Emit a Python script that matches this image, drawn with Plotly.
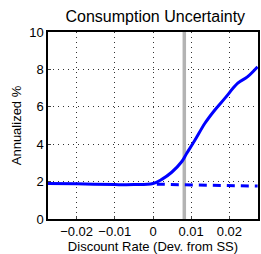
import plotly.graph_objects as go

# data
solid_x = [-0.0275, -0.02, -0.01, -0.005, 0.0, 0.0023, 0.0049, 0.0075, 0.0088, 0.011, 0.0136, 0.0162, 0.0188, 0.0222, 0.0248, 0.0274]
solid_y = [1.90, 1.88, 1.84, 1.84, 1.90, 2.12, 2.50, 3.06, 3.50, 4.22, 5.12, 5.83, 6.45, 7.26, 7.61, 8.14]
dash_x = [0.001, 0.01, 0.02, 0.0274]
dash_y = [1.86, 1.82, 1.78, 1.76]
vline_x = 0.0082
x_ticks = [-0.02, -0.01, 0, 0.01, 0.02]
x_tick_labels = ["\u22120.02", "\u22120.01", "0", "0.01", "0.02"]
y_ticks = [0, 2, 4, 6, 8, 10]

fig = go.Figure()
fig.add_trace(go.Scatter(x=[vline_x, vline_x], y=[0, 10], mode="lines",
                         line=dict(color="#b3b3b3", width=3.5), showlegend=False))
fig.add_trace(go.Scatter(x=solid_x, y=solid_y, mode="lines",
                         line=dict(color="#0000ff", width=3, shape="spline"), showlegend=False))
fig.add_trace(go.Scatter(x=dash_x, y=dash_y, mode="lines",
                         line=dict(color="#0000ff", width=3, dash="8px,6px"), showlegend=False))

font = "Liberation Sans, Arial, sans-serif"
fig.update_layout(
    width=261, height=254,
    margin=dict(l=48, r=1, t=32, b=35),
    paper_bgcolor="white", plot_bgcolor="white",
    font=dict(family=font, size=13, color="black"),
    title=dict(text="Consumption Uncertainty", x=0.595, xanchor="center", y=0.935, yanchor="middle",
               font=dict(size=16, color="black", family=font)),
)
fig.update_xaxes(range=[-0.0275, 0.0275], tickvals=x_ticks, ticktext=x_tick_labels,
                 showgrid=True, gridcolor="#333333", griddash="1px,4px", gridwidth=1,
                 showline=True, linecolor="black", linewidth=1.5, mirror=True,
                 ticks="inside", ticklen=3, zeroline=False,
                 title=dict(text="Discount Rate (Dev. from SS)", font=dict(size=13), standoff=1))
fig.update_yaxes(range=[0, 10], tickvals=y_ticks,
                 showgrid=True, gridcolor="#333333", griddash="1px,4px", gridwidth=1,
                 showline=True, linecolor="black", linewidth=1.5, mirror=True,
                 ticks="inside", ticklen=3, zeroline=False,
                 title=dict(text="Annualized %", font=dict(size=13), standoff=5))
fig.write_html("out.html", config={"displayModeBar": False},
               post_script="document.body.style.margin='0';document.body.style.overflow='hidden';")
